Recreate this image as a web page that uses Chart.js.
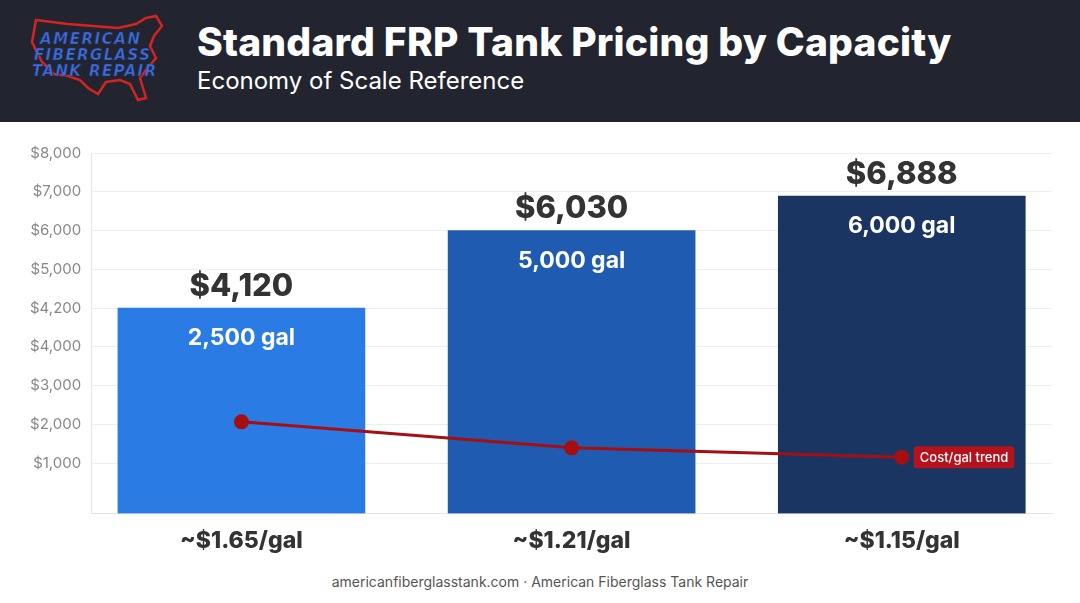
<!DOCTYPE html>
<html><head><meta charset="utf-8">
<script src="https://cdn.jsdelivr.net/npm/chart.js@4"></script>
<style>
body{margin:0;width:1080px;height:603px;background:#fff;font-family:Inter,Roboto,sans-serif;overflow:hidden;position:relative}
#hdr{position:absolute;left:0;top:0;width:1080px;height:122px;background:#22252f}
#t1{position:absolute;left:197px;top:18px;color:#fff;font:800 39px Inter;letter-spacing:0.2px}
#t2{position:absolute;left:197px;top:66px;color:#fff;font:400 24px Inter}
#logo{position:absolute;left:28px;top:12px}
#wrap{position:absolute;left:0;top:122px;width:1080px;height:439px}
#foot{position:absolute;left:0;width:1080px;top:573px;text-align:center;color:#555;font:400 14px Inter}
</style></head><body>
<div id="hdr">
<svg id="logo" width="140" height="92" viewBox="0 0 140 92">
<path d="M8 8 L40 12 L90 16 L108 12 L118 6 L128 4 L134 14 L126 24 L122 34 L128 46 L118 58 L112 66 L118 86 L110 88 L102 72 L92 68 L78 70 L70 82 L60 76 L52 68 L40 64 L26 62 L14 50 L4 30 Z" fill="none" stroke="#d42323" stroke-width="2.5"/>
<g font-family="DejaVu Sans" font-style="italic" font-weight="bold" font-size="15" fill="#3f6fd8" stroke="#1d2b6b" stroke-width="0.6">
<text x="12" y="32" textLength="100">AMERICAN</text>
<text x="6" y="48" textLength="116">FIBERGLASS</text>
<text x="4" y="64" textLength="124">TANK REPAIR</text></g>
</svg>
<div id="t1">Standard FRP Tank Pricing by Capacity</div>
<div id="t2">Economy of Scale Reference</div>
</div>
<div id="wrap"><canvas id="c" width="1080" height="439"></canvas></div>
<div id="foot">americanfiberglasstank.com · American Fiberglass Tank Repair</div>
<script>
const categories=["~$1.65/gal","~$1.21/gal","~$1.15/gal"];
const capacities=["2,500 gal","5,000 gal","6,000 gal"];
const priceLabels=["$4,120","$6,030","$6,888"];
const barHeights=[5.0,7.0,7.89];
const trendValues=[2.07,1.40,1.16];
const tickLabels=["$1,000","$2,000","$3,000","$4,000","$4,200","$5,000","$6,000","$7,000","$8,000"];
const barColors=["#2a7be4","#1f5bb0","#1b3563"];
const Y_MIN=-0.29;
const labelPlugin={id:'lbl',afterDatasetsDraw(ch){
 const ctx=ch.ctx;const m=ch.getDatasetMeta(1);
 ctx.save();ctx.textAlign='center';
 m.data.forEach((b,i)=>{
  ctx.fillStyle='#333';ctx.font='800 31px Inter';ctx.textBaseline='bottom';
  ctx.fillText(priceLabels[i],b.x,b.y-6);
  ctx.fillStyle='#fff';ctx.font='700 23px Inter';ctx.textBaseline='middle';
  ctx.fillText(capacities[i],b.x,b.y+30);
 });
 const lm=ch.getDatasetMeta(0);const p=lm.data[lm.data.length-1];
 ctx.font='500 13px Inter';const t='Cost/gal trend';const w=ctx.measureText(t).width+12;
 const x0=p.x+12;ctx.fillStyle='#b5121b';ctx.textBaseline='middle';
 ctx.beginPath();ctx.roundRect(x0,p.y-11,w,22,3);ctx.fill();
 ctx.fillStyle='#fff';ctx.textAlign='left';ctx.fillText(t,x0+6,p.y+1);
 ctx.restore();}};
new Chart(document.getElementById('c'),{
 data:{datasets:[
  {type:'line',data:trendValues.map((v,i)=>({x:i,y:v})),borderColor:'#a50f12',backgroundColor:'#a50f12',borderWidth:3,pointRadius:6,pointHoverRadius:6,order:0},
  {type:'bar',data:barHeights.map((v,i)=>({x:i,y:v})),base:Y_MIN,backgroundColor:barColors,barThickness:247,order:1}]},
 options:{responsive:false,animation:false,
  layout:{padding:{left:20,right:28,top:31,bottom:0}},
  plugins:{legend:{display:false},tooltip:{enabled:false}},
  scales:{
   x:{type:'linear',min:-0.455,max:2.455,offset:false,grid:{display:false},border:{color:'#e5e5e5'},
    afterBuildTicks(s){s.ticks=categories.map((_,i)=>({value:i}));},
    ticks:{color:'#333',font:{family:'Inter',size:23,weight:'800'},padding:6,callback:(v)=>categories[v]}},
   y:{min:Y_MIN,max:9,grid:{color:'#eeeeee',drawTicks:false},border:{color:'#e5e5e5'},
    afterBuildTicks(s){s.ticks=tickLabels.map((_,i)=>({value:i+1}));},
    ticks:{color:'#888',font:{family:'Inter',size:15},padding:10,callback:(v)=>tickLabels[v-1]}}}},
 plugins:[labelPlugin]});
</script></body></html>
